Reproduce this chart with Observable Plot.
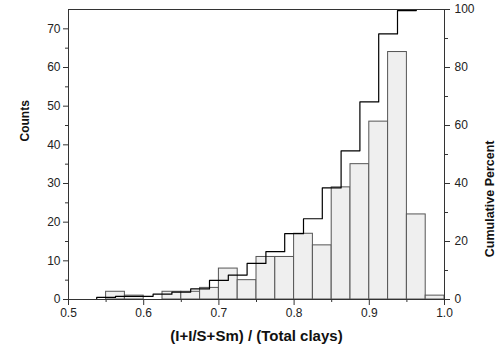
<!DOCTYPE html>
<html>
<head>
<meta charset="utf-8">
<script src="https://cdn.jsdelivr.net/npm/d3@7"></script>
<script src="https://cdn.jsdelivr.net/npm/@observablehq/plot@0.6"></script>
<style>
  html, body { margin: 0; padding: 0; background: #fff; }
  #chart svg { display: block; }
</style>
</head>
<body>
<div id="chart"></div>
<script>
// Histogram bins (lower edges), width 0.025
const binLow = [0.5, 0.525, 0.55, 0.575, 0.6, 0.625, 0.65, 0.675, 0.7, 0.725,
                0.75, 0.775, 0.8, 0.825, 0.85, 0.875, 0.9, 0.925, 0.95, 0.975];
const binWidth = 0.025;
const counts = [0, 0, 2, 1, 0, 2, 2, 3, 8, 5, 11, 11, 17, 14, 29, 35, 46, 64, 22, 1];

const xTicks = [0.5, 0.6, 0.7, 0.8, 0.9, 1.0];
const xMinor = [0.55, 0.65, 0.75, 0.85, 0.95];
const countTicks = [0, 10, 20, 30, 40, 50, 60, 70];
const countMinor = [5, 15, 25, 35, 45, 55, 65];
const pctTicks = [0, 20, 40, 60, 80, 100];
const pctMinor = [10, 30, 50, 70, 90];

const countMax = 75;           // left axis top
const pctToCount = countMax / 100; // right axis 100% aligns with 75 counts

const bars = binLow.map((b, i) => ({x1: b, x2: b + binWidth, y: counts[i]}));
const total = d3.sum(counts);
const cum = d3.cumsum(counts);
const cumLine = binLow.map((b, i) => ({x: b + binWidth / 2, y: cum[i] / total * 100 * pctToCount}));

const axisColor = "#333";

const chart = Plot.plot({
  width: 500,
  height: 353,
  marginLeft: 68,
  marginRight: 56,
  marginTop: 9,
  marginBottom: 54,
  style: {fontFamily: "'Liberation Sans', Arial, sans-serif", fontSize: "12px", color: "#222", background: "#fff"},
  x: {domain: [0.5, 1.0]},
  y: {domain: [0, countMax]},
  marks: [
    Plot.rectY(bars, {x1: "x1", x2: "x2", y: "y", fill: "#efefef", stroke: "#555", strokeWidth: 1}),
    Plot.line(cumLine, {x: "x", y: "y", curve: "step-before", stroke: "#000", strokeWidth: 1.2}),
    Plot.frame({stroke: axisColor, strokeWidth: 1}),
    // bottom axis
    Plot.axisX({anchor: "bottom", ticks: xTicks, tickSize: 6, tickPadding: 3, tickFormat: d3.format(".1f"), label: null, stroke: axisColor}),
    Plot.axisX({anchor: "bottom", ticks: xMinor, tickSize: 3, tickFormat: () => "", label: null, stroke: axisColor}),
    // left axis (counts)
    Plot.axisY({anchor: "left", ticks: countTicks, tickSize: 5, tickPadding: 3, label: null, stroke: axisColor}),
    Plot.axisY({anchor: "left", ticks: countMinor, tickSize: 3, tickFormat: () => "", label: null, stroke: axisColor}),
    // right axis (cumulative percent)
    Plot.axisY({anchor: "right", ticks: pctTicks.map(p => p * pctToCount), tickSize: 5, tickPadding: 5,
                tickFormat: d => String(Math.round(d / pctToCount)), label: null, stroke: axisColor}),
    Plot.axisY({anchor: "right", ticks: pctMinor.map(p => p * pctToCount), tickSize: 3, tickFormat: () => "", label: null, stroke: axisColor}),
    // titles
    Plot.text(["Counts"], {frameAnchor: "left", rotate: -90, dx: -43, dy: -13, fontWeight: "bold", fontSize: 12, fill: "#111"}),
    Plot.text(["Cumulative Percent"], {frameAnchor: "right", rotate: -90, dx: 45, dy: -14, fontWeight: "bold", fontSize: 12.5, fill: "#111"}),
    Plot.text(["(I+I/S+Sm) / (Total clays)"], {frameAnchor: "bottom", dy: 41, fontWeight: "bold", fontSize: 15, fill: "#111"})
  ]
});
document.getElementById("chart").appendChild(chart);
</script>
</body>
</html>
